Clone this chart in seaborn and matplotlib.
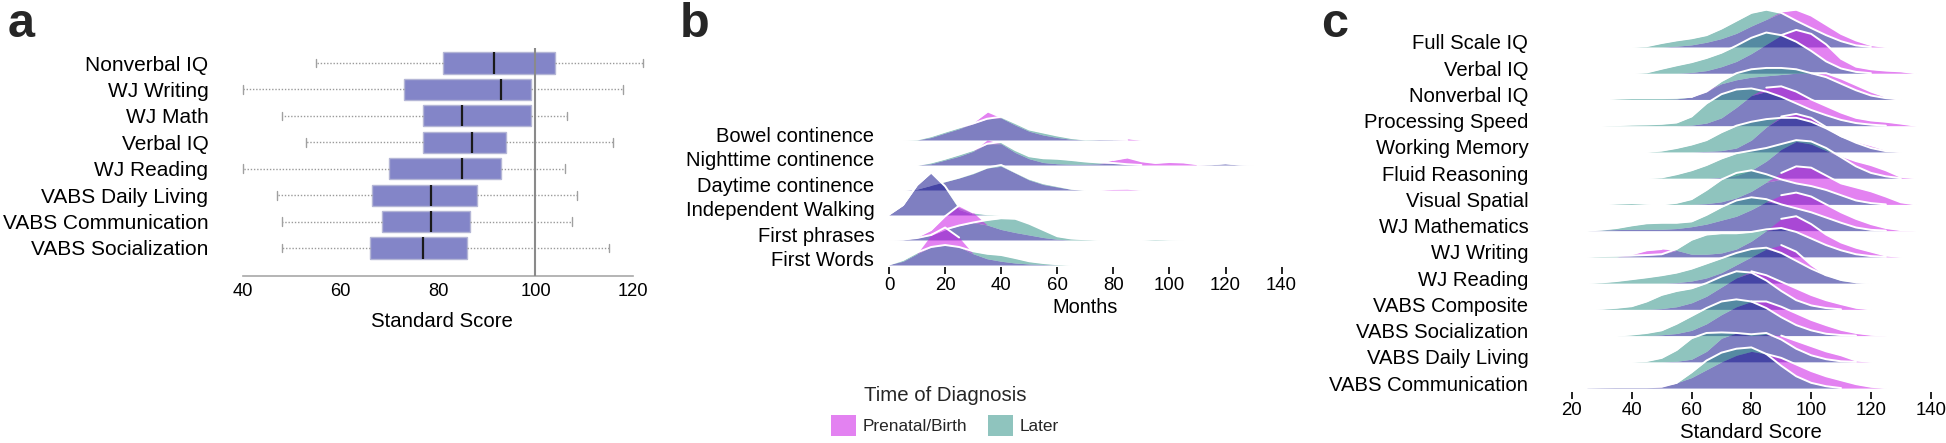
import numpy as np
import matplotlib
matplotlib.use("Agg")
import matplotlib.pyplot as plt
from matplotlib.patches import Patch
import seaborn as sns

# ---------------- panel a : box summaries ----------------
a_labels = ["Nonverbal IQ", "WJ Writing", "WJ Math", "Verbal IQ", "WJ Reading",
            "VABS Daily Living", "VABS Communication", "VABS Socialization"]
a_whislo = [55, 40, 48, 53, 40, 47, 48, 48]
a_q1 = [81, 73, 77, 77, 70, 66.5, 68.5, 66]
a_med = [91.5, 93, 85, 87, 85, 78.5, 78.5, 77]
a_q3 = [104, 99, 99, 94, 93, 88, 86.5, 86]
a_whishi = [122, 118, 106.5, 116, 106, 108.5, 107.5, 115]

# ---------------- panel b : milestone ridges (top row first) ----------------
b_labels = ["Bowel continence", "Nighttime continence", "Daytime continence",
            "Independent Walking", "First phrases", "First Words"]
b_months = [0, 5, 10, 15, 20, 25, 30, 35, 40, 45, 50, 55, 60, 65, 70,
            75, 80, 85, 90, 95, 100, 105, 110, 115, 120, 125, 130]
b_later = [
    [0, 0, 0.02, 0.15, 0.33, 0.5, 0.66, 0.85, 0.93, 0.68, 0.42, 0.3, 0.18, 0.08, 0.02, 0.03, 0.02, 0, 0, 0, 0, 0, 0, 0, 0, 0, 0],
    [0, 0, 0, 0.1, 0.25, 0.42, 0.6, 0.85, 0.92, 0.6, 0.35, 0.27, 0.25, 0.2, 0.14, 0.1, 0.08, 0.03, 0, 0, 0, 0, 0, 0.03, 0.07, 0.02, 0],
    [0, 0, 0.05, 0.2, 0.35, 0.5, 0.68, 0.9, 1.0, 0.72, 0.45, 0.27, 0.16, 0.05, 0, 0, 0, 0, 0, 0, 0, 0, 0, 0, 0, 0, 0],
    [0.02, 0.4, 1.2, 1.7, 1.15, 0.32, 0.1, 0.03, 0, 0, 0, 0, 0, 0, 0, 0, 0, 0, 0, 0, 0, 0, 0, 0, 0, 0, 0],
    [0, 0.02, 0.08, 0.2, 0.42, 0.58, 0.7, 0.8, 0.87, 0.85, 0.65, 0.4, 0.15, 0.06, 0.03, 0, 0, 0, 0, 0.03, 0.01, 0, 0, 0, 0, 0, 0],
    [0.02, 0.2, 0.5, 0.72, 0.8, 0.72, 0.55, 0.45, 0.4, 0.28, 0.15, 0.08, 0.03, 0, 0, 0, 0, 0, 0, 0, 0, 0, 0, 0, 0, 0, 0],
]
b_prenatal = [
    [0, 0, 0, 0.1, 0.28, 0.45, 0.7, 1.12, 0.88, 0.6, 0.35, 0.2, 0.1, 0.03, 0, 0.02, 0.03, 0.07, 0, 0, 0, 0, 0, 0, 0, 0, 0],
    [0, 0, 0, 0.05, 0.2, 0.35, 0.55, 1.0, 0.85, 0.5, 0.25, 0.1, 0.05, 0.03, 0.03, 0.05, 0.2, 0.3, 0.15, 0.08, 0.12, 0.1, 0.03, 0.03, 0.07, 0.02, 0],
    [0, 0, 0.05, 0.2, 0.33, 0.48, 0.65, 0.88, 0.95, 0.68, 0.4, 0.22, 0.12, 0.03, 0, 0, 0.04, 0.05, 0, 0, 0, 0, 0, 0, 0, 0, 0],
    [0.02, 0.4, 1.2, 1.7, 1.1, 0.22, 0.03, 0, 0, 0, 0, 0, 0, 0, 0, 0, 0, 0, 0, 0, 0, 0, 0, 0, 0, 0, 0],
    [0, 0.02, 0.12, 0.4, 0.95, 1.38, 1.1, 0.6, 0.42, 0.3, 0.2, 0.1, 0.03, 0, 0, 0, 0, 0, 0, 0, 0, 0, 0, 0, 0, 0, 0],
    [0.02, 0.15, 0.45, 1.2, 1.5, 1.1, 0.45, 0.25, 0.15, 0.08, 0.04, 0.02, 0, 0, 0, 0, 0, 0, 0, 0, 0, 0, 0, 0, 0, 0, 0],
]

# ---------------- panel c : score ridges (top row first) ----------------
c_labels = ["Full Scale IQ", "Verbal IQ", "Nonverbal IQ", "Processing Speed",
            "Working Memory", "Fluid Reasoning", "Visual Spatial", "WJ Mathematics",
            "WJ Writing", "WJ Reading", "VABS Composite", "VABS Socialization",
            "VABS Daily Living", "VABS Communication"]
c_scores = [25, 30, 35, 40, 45, 50, 55, 60, 65, 70, 75, 80,
            85, 90, 95, 100, 105, 110, 115, 120, 125, 130, 135]
c_later = [
    [0, 0, 0, 0, 0.03, 0.15, 0.25, 0.33, 0.45, 0.7, 1.0, 1.3, 1.42, 1.3, 1.0, 0.72, 0.45, 0.22, 0.06, 0, 0, 0, 0],
    [0, 0, 0, 0, 0.03, 0.17, 0.3, 0.42, 0.58, 0.78, 1.05, 1.35, 1.55, 1.45, 1.2, 0.85, 0.45, 0.18, 0.05, 0, 0, 0, 0],
    [0, 0, 0.03, 0.05, 0.05, 0.05, 0.06, 0.1, 0.3, 0.7, 1.0, 1.15, 1.2, 1.2, 1.15, 1.0, 0.85, 0.6, 0.35, 0.15, 0.05, 0, 0],
    [0, 0, 0.02, 0.04, 0.05, 0.07, 0.12, 0.35, 0.85, 1.2, 1.38, 1.42, 1.3, 1.1, 0.85, 0.6, 0.4, 0.22, 0.1, 0.04, 0, 0, 0],
    [0, 0, 0, 0, 0, 0.05, 0.15, 0.28, 0.45, 0.75, 1.0, 1.15, 1.25, 1.3, 1.3, 1.15, 0.9, 0.6, 0.35, 0.15, 0.03, 0, 0],
    [0, 0, 0, 0, 0, 0.03, 0.15, 0.3, 0.5, 0.75, 0.95, 1.05, 1.15, 1.3, 1.45, 1.4, 1.15, 0.8, 0.45, 0.2, 0.07, 0, 0],
    [0, 0, 0.03, 0.05, 0.02, 0, 0.06, 0.2, 0.55, 0.95, 1.2, 1.3, 1.15, 0.95, 0.8, 0.7, 0.55, 0.35, 0.15, 0.05, 0, 0, 0],
    [0, 0.04, 0.1, 0.2, 0.28, 0.3, 0.3, 0.35, 0.6, 0.9, 1.15, 1.27, 1.2, 1.0, 0.85, 0.7, 0.5, 0.3, 0.12, 0.03, 0, 0, 0],
    [0, 0.03, 0.04, 0.05, 0.07, 0.1, 0.3, 0.65, 0.85, 0.9, 0.9, 0.95, 1.05, 1.1, 0.95, 0.7, 0.45, 0.25, 0.1, 0.03, 0, 0, 0],
    [0, 0.03, 0.08, 0.15, 0.22, 0.3, 0.4, 0.55, 0.75, 0.95, 1.15, 1.3, 1.35, 1.15, 0.85, 0.55, 0.3, 0.12, 0.03, 0, 0, 0, 0],
    [0, 0.02, 0.06, 0.12, 0.3, 0.55, 0.7, 0.8, 1.0, 1.25, 1.45, 1.4, 1.1, 0.7, 0.35, 0.15, 0.05, 0, 0, 0, 0, 0, 0],
    [0, 0, 0, 0.04, 0.1, 0.2, 0.45, 0.75, 1.05, 1.3, 1.38, 1.3, 1.05, 0.7, 0.4, 0.2, 0.07, 0.02, 0, 0, 0, 0, 0],
    [0, 0, 0, 0, 0.03, 0.15, 0.45, 0.9, 1.1, 1.12, 1.1, 1.05, 1.1, 0.85, 0.5, 0.25, 0.1, 0.02, 0, 0, 0, 0, 0],
    [0.02, 0.03, 0.03, 0.03, 0.03, 0.05, 0.2, 0.6, 1.05, 1.35, 1.5, 1.55, 1.3, 0.85, 0.45, 0.2, 0.07, 0, 0, 0, 0, 0, 0],
]
c_prenatal = [
    [0, 0, 0, 0, 0, 0, 0.03, 0.08, 0.18, 0.32, 0.52, 0.8, 1.05, 1.35, 1.42, 1.2, 0.85, 0.5, 0.25, 0.07, 0, 0, 0],
    [0, 0, 0, 0, 0, 0, 0, 0.03, 0.1, 0.25, 0.45, 0.75, 1.1, 1.45, 1.65, 1.5, 1.1, 0.55, 0.25, 0.15, 0.1, 0.07, 0],
    [0, 0, 0, 0, 0, 0, 0.02, 0.1, 0.35, 0.6, 0.75, 0.85, 0.9, 0.95, 1.0, 1.0, 1.0, 0.8, 0.55, 0.3, 0.1, 0, 0],
    [0, 0, 0, 0, 0, 0, 0, 0.02, 0.1, 0.3, 0.7, 1.15, 1.45, 1.5, 1.3, 1.0, 0.75, 0.5, 0.3, 0.2, 0.15, 0.08, 0],
    [0, 0, 0, 0, 0, 0, 0, 0, 0.02, 0.05, 0.15, 0.45, 0.95, 1.35, 1.45, 1.3, 0.95, 0.6, 0.4, 0.25, 0.08, 0, 0],
    [0, 0, 0, 0, 0, 0, 0, 0, 0, 0.03, 0.1, 0.3, 0.65, 1.1, 1.4, 1.3, 1.05, 0.85, 0.65, 0.5, 0.3, 0.05, 0],
    [0, 0, 0, 0, 0, 0, 0, 0, 0.03, 0.1, 0.25, 0.5, 0.85, 1.2, 1.45, 1.4, 1.1, 0.8, 0.65, 0.5, 0.3, 0.08, 0],
    [0, 0.02, 0.04, 0.05, 0.05, 0.05, 0.08, 0.15, 0.25, 0.4, 0.55, 0.8, 1.1, 1.35, 1.45, 1.3, 1.0, 0.7, 0.45, 0.25, 0.1, 0.02, 0],
    [0, 0, 0, 0.1, 0.25, 0.3, 0.25, 0.1, 0.1, 0.15, 0.3, 0.6, 1.0, 1.45, 1.55, 1.25, 0.85, 0.55, 0.35, 0.2, 0.05, 0, 0],
    [0, 0, 0, 0, 0, 0, 0.02, 0.08, 0.2, 0.4, 0.7, 1.0, 1.3, 1.45, 1.2, 0.7, 0.3, 0.1, 0.03, 0, 0, 0, 0],
    [0, 0, 0, 0, 0, 0.03, 0.1, 0.25, 0.5, 0.85, 1.2, 1.45, 1.3, 1.05, 0.8, 0.55, 0.35, 0.2, 0.06, 0, 0, 0, 0],
    [0, 0, 0, 0, 0, 0.03, 0.08, 0.2, 0.45, 0.8, 1.1, 1.3, 1.3, 1.1, 0.85, 0.6, 0.4, 0.22, 0.1, 0.03, 0, 0, 0],
    [0, 0, 0, 0, 0, 0, 0.02, 0.1, 0.4, 0.9, 1.1, 1.0, 1.05, 1.0, 0.8, 0.6, 0.4, 0.25, 0.05, 0, 0, 0, 0],
    [0.02, 0.03, 0.04, 0.05, 0.06, 0.1, 0.2, 0.4, 0.7, 1.0, 1.25, 1.4, 1.3, 1.15, 0.9, 0.65, 0.45, 0.3, 0.15, 0.05, 0, 0, 0],
]

ALPHA = 0.55
PURPLE = "#16168E"   # both groups overlap
TEAL = "#339489"     # Later
PINK = "#CD1CE7"     # Prenatal/Birth
BOX = "#8385C8"

W, H = 1946, 443


def px_axes(fig, x0, x1, y0, y1):
    # pixel box (top-left origin) -> figure axes
    return fig.add_axes([x0 / W, 1 - y1 / H, (x1 - x0) / W, (y1 - y0) / H])


def outline_mask(v):
    on = v > 0
    on = on | np.roll(on, 1) | np.roll(on, -1)
    return on


def draw_ridges(ax, grid, labels, later, prenatal, label_off):
    x = np.array(grid, dtype=float)
    n = len(labels)
    for i in range(n):
        base = n - 1 - i
        t = np.array(later[i], dtype=float)
        p = np.array(prenatal[i], dtype=float)
        lo = np.minimum(t, p)
        z = 5 + 3 * i
        ax.fill_between(x, base, base + lo, color=PURPLE, alpha=ALPHA, lw=0, zorder=z)
        ax.fill_between(x, base + lo, base + t, color=TEAL, alpha=ALPHA, lw=0, zorder=z)
        ax.fill_between(x, base + lo, base + p, color=PINK, alpha=ALPHA, lw=0, zorder=z)
        pm = np.ma.masked_where(~outline_mask(p) | (p < t - 1e-9), base + p)
        tm = np.ma.masked_where(~outline_mask(t), base + t)
        ax.plot(x, pm, color="white", lw=1.4, zorder=z + 1, solid_capstyle="round")
        ax.plot(x, tm, color="white", lw=1.4, zorder=z + 1, solid_capstyle="round")
    ax.set_yticks([n - 1 - i + label_off for i in range(n)])
    ax.set_yticklabels(labels)
    for s in ax.spines.values():
        s.set_visible(False)
    ax.grid(False)


def main():
    sns.set_theme(style="white")
    plt.rcParams["font.family"] = ["Liberation Sans", "DejaVu Sans"]

    fig = plt.figure(figsize=(W / 100, H / 100), dpi=100)

    # ---------- a ----------
    ax = px_axes(fig, 233.3, 650, 48, 276)
    stats = [dict(label=l, whislo=a, q1=b, med=c, q3=d, whishi=e, fliers=[])
             for l, a, b, c, d, e in zip(a_labels, a_whislo, a_q1, a_med, a_q3, a_whishi)]
    kw = dict(positions=list(range(len(stats))), widths=0.8, patch_artist=True,
              showfliers=False, capwidths=0.33,
              boxprops=dict(facecolor=BOX, edgecolor="#B4B6D6", lw=1.0),
              medianprops=dict(color="#1a1a1a", lw=1.6),
              whiskerprops=dict(color="#9a9a9a", lw=1.0, linestyle=(0, (1, 1.3))),
              capprops=dict(color="#a0a0a0", lw=1.0))
    try:
        ax.bxp(stats, orientation="horizontal", **kw)
    except TypeError:
        ax.bxp(stats, vert=False, **kw)
    ax.axvline(100, color="#8a8a8a", lw=1.5, zorder=6)
    ax.set_xlim(38, 123.5)
    ax.set_ylim(8.06, -0.57)
    ax.set_xticks([40, 60, 80, 100, 120])
    ax.set_yticks(range(len(a_labels)))
    ax.set_yticklabels(a_labels)
    for s in ["top", "right", "left"]:
        ax.spines[s].set_visible(False)
    ax.spines["bottom"].set_color("#a8a8a8")
    ax.spines["bottom"].set_linewidth(1.2)
    ax.spines["bottom"].set_bounds(40, 120)
    ax.tick_params(axis="x", direction="out", length=4, width=1.0, color="#a8a8a8",
                   labelsize=13.2, pad=1, labelcolor="black")
    ax.tick_params(axis="y", length=0, labelsize=15, pad=18, labelcolor="black")
    ax.set_xlabel("Standard Score", fontsize=14.7, labelpad=9, color="black")
    ax.set_ylabel("")
    ax.grid(False)

    # ---------- b ----------
    ax = px_axes(fig, 880.6, 1290, 100, 267)
    draw_ridges(ax, b_months, b_labels, b_later, b_prenatal, 0.24)
    ax.set_xlim(-3, 143)
    ax.set_ylim(-0.08, 6.6)
    ax.set_xticks([0, 20, 40, 60, 80, 100, 120, 140])
    ax.tick_params(axis="x", direction="out", length=5, width=1.4, color="#222222",
                   labelsize=13.4, pad=2, bottom=True, labelcolor="black")
    ax.tick_params(axis="y", length=0, labelsize=14.5, pad=4.5, labelcolor="black")
    ax.set_xlabel("Months", fontsize=14.4, labelpad=3, color="black")

    handles = [Patch(facecolor=PINK, alpha=ALPHA, edgecolor="none", label="Prenatal/Birth"),
               Patch(facecolor=TEAL, alpha=ALPHA, edgecolor="none", label="Later")]
    leg = fig.legend(handles=handles, loc="center", bbox_to_anchor=(945 / W, 1 - 411 / H),
                     ncol=2, frameon=False, title="Time of Diagnosis", fontsize=12.4,
                     title_fontsize=14.7, handlelength=1.45, handleheight=1.45,
                     handletextpad=0.4, columnspacing=1.2, labelspacing=0.6, borderpad=0)

    # ---------- c ----------
    ax = px_axes(fig, 1563, 1939.7, 0, 392)
    draw_ridges(ax, c_scores, c_labels, c_later, c_prenatal, 0.19)
    ax.set_xlim(17, 143)
    ax.set_ylim(-0.15, 14.79)
    ax.set_xticks([20, 40, 60, 80, 100, 120, 140])
    ax.tick_params(axis="x", direction="out", length=5, width=1.4, color="#222222",
                   labelsize=13.4, pad=2, bottom=True, labelcolor="black")
    ax.tick_params(axis="y", length=0, labelsize=14.6, pad=25, labelcolor="black")
    ax.set_xlabel("Standard Score", fontsize=14.7, labelpad=3, color="black")

    # panel letters
    for x, letter in [(8, "a"), (680, "b"), (1321, "c")]:
        fig.text(x / W, 1 - 37 / H, letter, fontsize=35, fontweight="bold",
                 va="baseline", ha="left")

    fig.savefig("out.png", dpi=100)
    plt.close(fig)


if __name__ == "__main__":
    main()
